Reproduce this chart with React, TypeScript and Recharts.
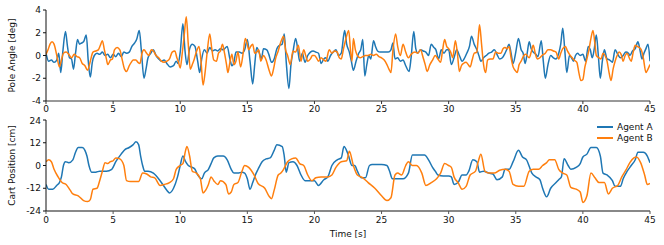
import React from "react";
import { LineChart, Line, XAxis, YAxis, Legend } from "recharts";

const timeTicks = [0, 5, 10, 15, 20, 25, 30, 35, 40, 45];
const angleTicks = [-4, -2, 0, 2, 4];
const cartTicks = [-24, -12, 0, 12, 24];
const seriesNames = ["Agent A", "Agent B"];
const seriesColors = ["#1f77b4", "#ff7f0e"];

// Pole angle [deg], Agent A: [time s, value]
const angleA: number[][] = [
  [0, 0.2], [0.2, -0.5], [0.4, -0.4], [0.6, -0.6], [0.8, -0.4], [0.95, 0.2], [1.1, -1.5], [1.25, 0.3], [1.45, 2.1], [1.6, 0.8],
  [1.75, -0.2], [1.9, -0.3], [2.05, -1.2], [2.2, 0.2], [2.35, 1.4], [2.5, 1.0], [2.65, 1.1], [2.8, 1.2], [3.0, 1.8], [3.15, -0.5],
  [3.3, -1.9], [3.45, -0.6], [3.6, 0], [3.8, 0.2], [4.0, 0.1], [4.2, 0.3], [4.4, 0], [4.6, 0.1], [4.8, -0.2], [5.0, 0.1],
  [5.2, -0.1], [5.4, 0.2], [5.6, -0.1], [5.8, 0.3], [6.0, 0.2], [6.2, 0.3], [6.4, 0.8], [6.6, 1.1], [6.75, 1.4], [6.95, 2.2],
  [7.1, 0.5], [7.3, -2.0], [7.45, -1.2], [7.6, -0.2], [7.8, 0.2], [8.0, 0.5], [8.2, 0], [8.4, -0.3], [8.6, -0.5], [8.8, -0.4],
  [9.0, -0.7], [9.25, -1.0], [9.5, -0.9], [9.7, -0.5], [9.85, -0.7], [10.0, 0.3], [10.2, 2.8], [10.35, 0.5], [10.5, -0.8], [10.7, 0.6],
  [10.9, 1.0], [11.1, 0.8], [11.3, -0.5], [11.45, -1.5], [11.6, -0.3], [11.8, 0.5], [12.0, 0.2], [12.2, 0.7], [12.4, 0.4], [12.6, 0.5],
  [12.8, 0.4], [13.0, 0.6], [13.2, 0.5], [13.5, 0.8], [13.7, -0.3], [13.85, -0.9], [14.0, -0.6], [14.15, 0.3], [14.4, 0.3], [14.6, 0.2],
  [14.8, 0.5], [15.0, 1.4], [15.2, -0.5], [15.4, -2.5], [15.55, -0.8], [15.7, 0.7], [15.9, 0.2], [16.05, -0.3], [16.2, 0.6], [16.45, 0.5],
  [16.6, 0.1], [16.8, -0.6], [17.0, -0.3], [17.2, 0.6], [17.4, 0.9], [17.6, 1.0], [17.75, 1.9], [17.9, -0.6], [18.1, -2.9], [18.25, -0.8],
  [18.4, 0.3], [18.6, 1.5], [18.75, 0.6], [18.9, -0.5], [19.1, 0.2], [19.3, -0.6], [19.5, 0], [19.7, 0.3], [19.9, 0.4], [20.1, 0.3],
  [20.3, 0.2], [20.5, -0.7], [20.7, -0.3], [20.85, -0.2], [21.0, -0.5], [21.2, 0], [21.4, 0.3], [21.6, 0.5], [21.8, 0], [22.0, 0.2],
  [22.25, 2.2], [22.4, 1.0], [22.6, 0.3], [22.75, -0.5], [22.9, -1.3], [23.1, -0.5], [23.3, 0.2], [23.45, 0.5], [23.6, 1.4], [23.75, -1.8],
  [23.9, -0.8], [24.05, 0], [24.2, -0.3], [24.4, 1.3], [24.55, 0.8], [24.7, 0.4], [24.9, 0.3], [25.2, 0.3], [25.5, 0.3], [25.7, 0.5],
  [25.85, 1.1], [26.0, -0.3], [26.2, -0.2], [26.4, -0.5], [26.6, -0.4], [26.8, -0.9], [27.05, -1.4], [27.2, -0.2], [27.4, 2.1], [27.55, 0.6],
  [27.7, 0.2], [27.9, 0.5], [28.1, 0.4], [28.3, 0.3], [28.5, 0], [28.7, 1.0], [28.9, 0.7], [29.05, 0.5], [29.25, -0.3], [29.45, 0.5],
  [29.65, 0.2], [29.85, 0.5], [30.0, 0.5], [30.2, -0.8], [30.4, -0.2], [30.6, 0.5], [30.8, 0], [31.0, -0.5], [31.15, -0.3], [31.35, 0.2],
  [31.55, 0.8], [31.7, 1.7], [31.9, 1.0], [32.1, 0.5], [32.25, 0], [32.4, -0.5], [32.6, -0.2], [32.8, 0], [33.0, 0.2], [33.2, 0.3],
  [33.4, 0.5], [33.6, 0.1], [33.8, -0.3], [34.0, -0.2], [34.2, 0.2], [34.35, 0.6], [34.5, 1.0], [34.65, 0.2], [34.8, -0.7], [35.0, 0.3],
  [35.2, 1.5], [35.4, 0.5], [35.55, 0.2], [35.7, -0.7], [35.85, 0.2], [36.0, 1.2], [36.15, 0.6], [36.3, 0.3], [36.5, 0.1], [36.65, -0.1],
  [36.9, 1.3], [37.05, -0.5], [37.2, -2.0], [37.4, -0.8], [37.6, 0], [37.8, -0.2], [38.0, -0.3], [38.2, 0.2], [38.35, 1.0], [38.5, 2.4],
  [38.65, 0.5], [38.8, -1.5], [39.0, 0], [39.15, -0.2], [39.3, -0.5], [39.45, 0], [39.6, 0.2], [39.8, 0], [40.0, 0.1], [40.2, -0.5],
  [40.4, 0.8], [40.55, 0.5], [40.7, -0.2], [40.85, 0.6], [41.0, 1.8], [41.15, 0], [41.3, -2.0], [41.45, -0.5], [41.6, 0.5], [41.8, -0.3],
  [42.0, -0.4], [42.2, -0.6], [42.4, 0.5], [42.6, 0.1], [42.8, -0.2], [43.0, 0], [43.2, 0.3], [43.4, 0.2], [43.5, 0], [43.7, 0.4],
  [43.9, 0.6], [44.1, 1.2], [44.25, 0.5], [44.4, -0.3], [44.55, 0.2], [44.7, 0.6], [44.85, 1.0], [45.0, -0.5],
];

// Pole angle [deg], Agent B
const angleB: number[][] = [
  [0, 0.1], [0.15, 0.5], [0.3, 1.0], [0.45, 1.2], [0.6, 1.0], [0.75, 0.3], [0.85, -0.3], [1.0, -1.0], [1.15, -0.4], [1.3, 0.2],
  [1.5, 0.3], [1.7, 0.1], [1.9, -0.2], [2.1, 0.1], [2.3, -0.1], [2.5, -0.2], [2.7, -0.7], [2.9, -0.9], [3.1, -1.3], [3.3, -0.5],
  [3.5, 0.3], [3.7, 0.4], [3.9, 0.5], [4.05, 0.9], [4.2, 1.3], [4.35, 0.5], [4.5, -0.3], [4.6, -0.8], [4.8, -0.4], [4.95, -0.3],
  [5.1, 0.5], [5.3, 0.7], [5.5, 0.5], [5.7, -0.5], [5.85, -1.2], [6.0, -1.4], [6.2, -0.9], [6.35, -0.6], [6.5, -0.4], [6.7, -0.4],
  [6.85, -0.6], [7.0, -0.7], [7.15, 0.2], [7.3, 0.5], [7.5, 0.2], [7.65, 0], [7.85, 0.5], [8.0, 0.4], [8.2, 0], [8.4, -0.2],
  [8.6, -0.5], [8.8, -0.6], [9.0, -0.5], [9.2, -0.3], [9.4, 0.3], [9.6, 0.4], [9.75, -0.2], [9.85, -0.5], [10.0, -1.1], [10.15, 0.2],
  [10.3, 1.8], [10.45, 3.4], [10.6, 1.0], [10.75, -1.2], [10.9, -0.8], [11.05, -0.3], [11.2, 0.3], [11.4, 0.8], [11.55, -0.5], [11.7, -2.6],
  [11.85, -1.5], [12.0, 0.2], [12.2, 1.9], [12.35, 0.6], [12.5, -0.4], [12.7, -0.5], [12.85, 0.2], [13.0, 0.4], [13.15, 1.0], [13.3, 0.2],
  [13.45, -0.8], [13.55, -1.5], [13.7, -0.6], [13.85, 0.1], [14.0, -0.8], [14.15, -0.5], [14.3, 0.3], [14.5, -1.0], [14.7, 0.3], [14.85, 1.5],
  [15.0, 1.0], [15.1, 0.5], [15.25, 0.8], [15.4, 1.0], [15.55, 0.2], [15.7, 0.3], [15.85, 0.5], [16.0, -0.5], [16.2, 0], [16.4, -0.4],
  [16.6, -1.2], [16.8, -1.8], [16.95, -1.2], [17.1, -0.3], [17.3, 0.4], [17.5, 1.2], [17.7, 1.7], [17.85, 0.5], [18.0, 0], [18.2, -0.8],
  [18.4, 0.4], [18.6, 0.3], [18.8, 0.9], [19.0, -0.5], [19.2, 0.5], [19.35, 0], [19.5, -0.5], [19.7, -0.3], [19.85, 0], [20.0, 0],
  [20.15, -0.2], [20.3, -0.5], [20.5, -0.2], [20.7, -0.4], [20.85, -0.5], [21.1, 0.5], [21.3, 0.2], [21.5, 0.4], [21.7, 0.3], [21.85, -0.2],
  [22.0, -0.3], [22.15, 0.5], [22.35, 1.5], [22.55, 2.2], [22.7, 0.3], [22.8, -0.5], [22.9, 1.5], [23.05, 0.5], [23.2, 0], [23.4, -0.2],
  [23.6, -0.1], [23.8, 0], [24.0, 0], [24.2, 0.1], [24.4, 0], [24.6, 0.1], [24.8, -0.1], [25.0, -0.2], [25.2, -0.4], [25.4, -0.8],
  [25.55, -1.2], [25.7, -1.5], [25.85, 0.5], [26.05, 1.9], [26.2, 0.8], [26.4, 0], [26.6, 1.0], [26.8, 0.3], [27.0, -0.2], [27.2, 0.1],
  [27.5, 0.3], [27.7, 0.2], [27.9, 0.5], [28.1, -0.2], [28.25, -0.8], [28.4, -1.4], [28.6, -0.8], [28.8, -0.4], [29.0, 0], [29.2, -0.3],
  [29.4, -0.6], [29.55, 0.5], [29.7, 1.4], [29.85, 0.8], [30.0, 0.6], [30.15, 0.3], [30.3, -0.2], [30.5, 1.3], [30.65, 0.2], [30.8, -1.4],
  [30.95, -0.9], [31.1, -0.7], [31.3, -0.6], [31.45, -0.8], [31.6, -1.0], [31.75, -0.4], [31.9, 0.2], [32.1, 0.3], [32.2, 1.5], [32.3, 2.7],
  [32.45, 1.0], [32.6, -0.8], [32.75, -1.5], [32.9, -0.4], [33.1, -0.3], [33.3, -0.3], [33.5, 0.3], [33.7, 0.2], [33.9, 0.2], [34.05, 0.6],
  [34.2, 0.7], [34.35, 0.6], [34.5, 0.8], [34.65, -0.2], [34.8, -1.0], [34.95, -1.3], [35.1, -1.5], [35.25, -0.8], [35.4, -0.5], [35.6, 0],
  [35.75, 0.1], [36.0, -0.2], [36.15, 0.3], [36.3, 0.9], [36.45, 0.2], [36.6, -0.3], [36.8, -0.2], [36.95, 0], [37.2, 0.2], [37.4, 0.5],
  [37.6, 0.5], [37.8, 0.4], [38.0, 0.3], [38.2, -0.3], [38.35, 0.2], [38.5, 0.6], [38.7, 0.8], [38.85, 0.4], [39.0, 0.1], [39.2, -0.2],
  [39.35, -0.4], [39.55, -0.6], [39.7, -1.5], [39.85, -2.2], [40.0, -2.1], [40.15, -1.0], [40.3, -0.3], [40.45, 0.5], [40.6, 1.5], [40.75, 2.2],
  [40.9, 1.0], [41.0, 0], [41.2, -0.2], [41.35, -0.3], [41.5, 0.2], [41.65, 0], [41.8, -0.5], [41.95, -1.5], [42.1, -2.2], [42.25, -1.2],
  [42.4, -0.5], [42.55, 0], [42.7, 0.3], [42.85, 0.1], [43.0, -0.5], [43.15, 0], [43.3, 0.2], [43.45, -0.2], [43.6, -0.5], [43.75, 0.3],
  [43.9, 0.9], [44.05, 0.8], [44.2, 0.7], [44.35, 0.5], [44.5, -0.2], [44.7, -1.5], [44.85, -1.2], [45.0, -0.8],
];

// Cart position [cm], Agent A
const cartA: number[][] = [
  [0, -10], [0.2, -12.5], [0.5, -12.5], [0.8, -10.5], [1.0, -9], [1.15, -6], [1.3, 0], [1.45, 2], [1.7, 1.5], [2.0, 3],
  [2.2, 7], [2.4, 9.5], [2.7, 9.5], [2.9, 8], [3.05, 5], [3.2, 0], [3.4, -3.5], [3.7, -3.5], [4.0, -3], [4.5, -3],
  [4.9, -2], [5.2, 2], [5.6, 6], [5.9, 8.5], [6.2, 9.5], [6.5, 11], [6.7, 12.5], [6.9, 11], [7.05, 5], [7.2, 0],
  [7.35, -3], [7.6, -3], [8.0, -4], [8.5, -8], [9.0, -13], [9.2, -14.5], [9.5, -12], [9.8, -6], [10.0, 0], [10.2, 5],
  [10.4, 2], [10.6, 0], [10.9, -1], [11.1, -2], [11.3, -5], [11.6, -7], [11.8, -4], [12.1, -2], [12.3, 1], [12.5, 4],
  [12.8, 5], [13.2, 5], [13.5, 3], [13.8, -2], [14.0, -4], [14.3, -4], [14.6, -3.5], [14.8, -4], [15.0, -7], [15.2, -12.5],
  [15.4, -9], [15.6, -5], [15.8, -2], [16.1, 2], [16.4, 3.5], [16.7, 4], [17.0, 8], [17.2, 11], [17.6, 10], [17.75, 5],
  [17.9, -3.5], [18.1, 1.5], [18.4, 2], [18.7, 0], [19.0, -5], [19.3, -8], [19.7, -8], [20.0, -8], [20.3, -10.5], [20.7, -7.5],
  [21.0, -6], [21.3, 0], [21.7, 3], [22.0, 4], [22.2, 10], [22.5, 6], [22.8, 0], [23.0, 0], [23.2, -3], [23.5, -6.5],
  [23.8, -6.5], [24.1, 0], [24.3, 0.5], [24.7, 0.5], [25.0, 0.5], [25.4, 0], [25.6, -3], [25.8, -7], [26.2, -7], [26.6, -7],
  [27.0, -4], [27.3, 5.5], [27.6, 5.5], [28.2, 5.5], [28.5, 3], [28.8, -1], [29.0, -3], [29.2, -5], [29.6, -5.5], [30.0, -5.5],
  [30.2, -6], [30.4, -10], [30.7, -9], [31.0, -5], [31.3, -5], [31.5, -3], [31.8, 3], [32.1, 2], [32.3, -3.5], [32.6, -3],
  [33.0, -4], [33.3, -4.5], [33.6, -7.5], [34.0, -6], [34.2, -2], [34.5, -2], [34.8, 2], [35.2, 8], [35.5, 4.5], [35.8, 3],
  [36.2, -4], [36.5, -6], [36.8, -7.5], [37.0, -12], [37.3, -16.5], [37.6, -12], [38.0, -9], [38.2, -7.5], [38.4, -6], [38.6, 3.5],
  [38.9, 0], [39.1, -2], [39.5, -1], [39.8, 1], [40.0, 4.5], [40.3, 6], [40.6, 9.5], [41.0, 9.5], [41.3, 5], [41.5, -4],
  [41.8, -5], [42.2, -8], [42.4, -11], [42.8, -11], [43.0, -7], [43.3, -3], [43.6, 0], [43.9, 3], [44.1, 7], [44.5, 7],
  [44.8, 5], [45.0, 1.5],
];

// Cart position [cm], Agent B
const cartB: number[][] = [
  [0, 2], [0.2, 3], [0.4, 2], [0.6, -2], [0.9, -6], [1.2, -9], [1.5, -10], [1.8, -13], [2.0, -15], [2.4, -16],
  [2.8, -18.5], [3.1, -19], [3.3, -18], [3.5, -12.5], [3.8, -12], [4.0, -8], [4.2, -3], [4.4, 1.5], [4.6, 1], [4.8, 2],
  [5.0, 2.5], [5.2, 4], [5.5, 3.5], [5.8, 0], [6.0, -8], [6.3, -8.5], [6.9, -8.5], [7.2, -4], [7.5, -4.5], [7.8, -6],
  [8.1, -6.5], [8.5, -10.5], [8.8, -10], [9.2, -9], [9.5, -7], [9.7, -2], [10.0, 0], [10.2, 1], [10.4, 8], [10.5, 10],
  [10.7, 5], [10.9, -3], [11.2, -4], [11.5, -7], [11.7, -14.5], [11.9, -13], [12.1, -10], [12.3, -6], [12.5, -8], [12.8, -10],
  [13.0, -8], [13.4, -10], [13.6, -15], [13.8, -14], [14.0, -10], [14.3, -9], [14.6, -3], [14.8, 0], [15.1, -1], [15.5, -5],
  [15.8, -9.5], [16.3, -12], [16.6, -16], [16.8, -17.5], [17.0, -13], [17.3, -5], [17.5, -4], [17.7, -2], [18.0, 2], [18.3, 3.5],
  [18.6, 4], [18.9, 1], [19.2, 0], [19.5, -5], [19.8, -8], [20.1, -6.5], [20.5, -6], [21.0, -6], [21.3, -5], [21.6, -1],
  [22.0, 2], [22.4, 2.5], [22.6, 7.5], [22.9, 0], [23.2, -5], [23.6, -6.5], [24.0, -9], [24.5, -12], [25.0, -16], [25.4, -18.5],
  [25.7, -17], [26.0, -5], [26.2, -4], [26.5, -5], [26.8, 0], [27.0, 2], [27.3, 0], [27.6, 0], [28.0, -4], [28.3, -10.5],
  [28.7, -9], [29.1, -7], [29.4, -4], [29.7, 1], [30.0, 0], [30.2, -1], [30.4, -6], [30.7, -9], [31.0, -12.5], [31.3, -11],
  [31.6, -5], [32.0, -3], [32.2, 2], [32.4, 6], [32.7, -3], [33.0, -4], [33.4, -4], [33.8, -2.5], [34.2, -2], [34.5, -3],
  [34.8, -10], [35.2, -11], [35.6, -11], [36.0, -3], [36.3, -2], [36.7, -2], [37.0, 0], [37.3, 1.5], [37.5, 3], [37.9, 3],
  [38.2, -2], [38.5, -4], [38.8, -5], [39.1, -11.5], [39.5, -12.5], [39.8, -14], [40.0, -19.5], [40.3, -16], [40.6, -4], [40.9, -6.5],
  [41.2, -9], [41.6, -9], [41.9, -15], [42.2, -12], [42.6, -10.5], [42.9, -6], [43.2, -2.5], [43.5, 1.5], [43.8, 4], [44.0, 4.5],
  [44.3, 1.5], [44.6, -5], [44.8, -10], [45.0, -9.5],
];

const toData = (pts: number[][]) => pts.map(([t, v]) => ({ t, v }));

const FONT = "'DejaVu Sans', sans-serif";
const tickStyle = { fontSize: 9, fill: "#111", fontFamily: FONT };

const LegendBox = (props: any) => {
  const { payload = [] } = props;
  return (
    <div style={{ fontFamily: FONT, fontSize: 9, color: "#111" }}>
      {payload.map((e: any) => (
        <div key={e.value} style={{ display: "flex", alignItems: "center", height: 11 }}>
          <svg width={16} height={4} style={{ display: "block" }}>
            <line x1={0} y1={2} x2={16} y2={2} stroke={e.color} strokeWidth={2} />
          </svg>
          <span style={{ marginLeft: 4, whiteSpace: "nowrap" }}>{e.value}</span>
        </div>
      ))}
    </div>
  );
};

export default function App() {
  const aA = toData(angleA);
  const aB = toData(angleB);
  const cA = toData(cartA);
  const cB = toData(cartB);
  return (
    <div style={{ width: 664, height: 245, background: "#fff", position: "relative" }}>
      <style>{`body{margin:0;}`}</style>
      <LineChart width={664} height={116} margin={{ top: 10, right: 14, bottom: 0, left: 0 }}>
        <XAxis
          dataKey="t"
          type="number"
          domain={[0, 45]}
          ticks={timeTicks}
          allowDataOverflow
          height={15}
          tick={tickStyle}
          tickSize={3}
          tickMargin={2}
          axisLine={{ stroke: "#333", strokeWidth: 1 }}
          tickLine={{ stroke: "#333" }}
        />
        <YAxis
          type="number"
          domain={[-4, 4]}
          ticks={angleTicks}
          width={46}
          tick={tickStyle}
          tickSize={3}
          tickMargin={2}
          axisLine={{ stroke: "#111" }}
          tickLine={{ stroke: "#111" }}
          label={{
            value: "Pole Angle [deg]",
            angle: -90,
            position: "insideLeft",
            offset: 12,
            style: { textAnchor: "middle", fontSize: 9, fill: "#111", fontFamily: FONT },
          }}
        />
        <Line data={aA} dataKey="v" name={seriesNames[0]} stroke={seriesColors[0]} strokeWidth={1.5} dot={false} type="monotone" isAnimationActive={false} />
        <Line data={aB} dataKey="v" name={seriesNames[1]} stroke={seriesColors[1]} strokeWidth={1.5} dot={false} type="monotone" isAnimationActive={false} />
      </LineChart>
      <LineChart width={664} height={129} margin={{ top: 4, right: 14, bottom: 0, left: 0 }}>
        <XAxis
          dataKey="t"
          type="number"
          domain={[0, 45]}
          ticks={timeTicks}
          allowDataOverflow
          height={34}
          tick={tickStyle}
          tickSize={3}
          tickMargin={3}
          axisLine={{ stroke: "#888", strokeWidth: 2 }}
          tickLine={{ stroke: "#555" }}
          label={{
            value: "Time [s]",
            position: "insideBottom",
            offset: 8,
            style: { fontSize: 9, fill: "#111", fontFamily: FONT },
          }}
        />
        <YAxis
          type="number"
          domain={[-24, 24]}
          ticks={cartTicks}
          width={46}
          tick={tickStyle}
          tickSize={3}
          tickMargin={2}
          axisLine={{ stroke: "#111" }}
          tickLine={{ stroke: "#111" }}
          label={{
            value: "Cart Position [cm]",
            angle: -90,
            position: "insideLeft",
            offset: 12,
            style: { textAnchor: "middle", fontSize: 9, fill: "#111", fontFamily: FONT },
          }}
        />
        <Legend
          layout="vertical"
          verticalAlign="middle"
          align="center"
          content={<LegendBox />}
          wrapperStyle={{ top: 5, left: 597, width: "auto", height: "auto" }}
        />
        <Line data={cA} dataKey="v" name={seriesNames[0]} stroke={seriesColors[0]} strokeWidth={1.5} dot={false} type="monotone" isAnimationActive={false} />
        <Line data={cB} dataKey="v" name={seriesNames[1]} stroke={seriesColors[1]} strokeWidth={1.5} dot={false} type="monotone" isAnimationActive={false} />
      </LineChart>
    </div>
  );
}
